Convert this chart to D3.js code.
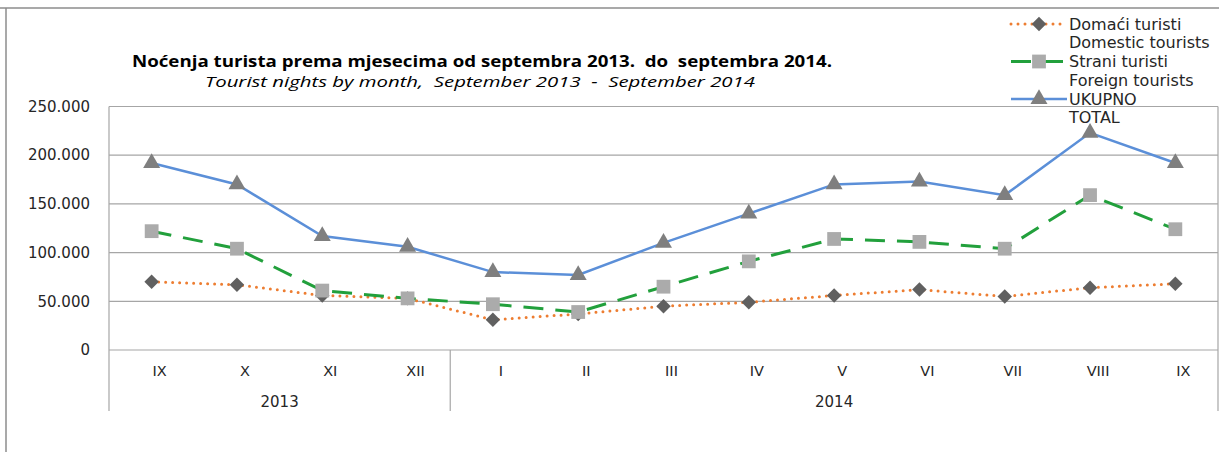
<!DOCTYPE html>
<html>
  <head>
    <meta charset="utf-8">
    <title>Noćenja turista</title>
    <script src="https://d3js.org/d3.v7.min.js"></script>
    <style>
      body { margin: 0; background: #fff; }
      text { font-family: "DejaVu Sans", Verdana, sans-serif; fill: #262626; }
      .title { font-family: "Open Sans", sans-serif; font-weight: bold; font-size: 16px; fill: #000; white-space: pre; }
      .subtitle { font-family: "Open Sans", sans-serif; font-style: italic; font-size: 15px; fill: #000; white-space: pre; }
    </style>
  </head>
  <body>
    <div id="chart"></div>
    <script>
      // months Sept 2013 - Sept 2014
      var months = ["IX", "X", "XI", "XII", "I", "II", "III", "IV", "V", "VI", "VII", "VIII", "IX"];
      var years = [{ label: "2013", from: 0, to: 4 }, { label: "2014", from: 4, to: 13 }];
      var domestic = [70000, 67000, 56000, 53000, 31000, 37000, 45000, 49000, 56000, 62000, 55000, 64000, 68000];
      var foreign = [122000, 104000, 61000, 53000, 47000, 39000, 65000, 91000, 114000, 111000, 104000, 159000, 124000];
      var total = [192000, 170000, 117000, 106000, 80000, 77000, 110000, 140000, 170000, 173000, 159000, 223000, 192000];
      var yTicks = [0, 50000, 100000, 150000, 200000, 250000];

      var width = 1219, height = 452;
      var plotLeft = 109, plotRight = 1218, plotTop = 106.5, plotBottom = 350, axisBottom = 411;

      var svg = d3.select("#chart").append("svg")
        .attr("width", width).attr("height", height);

      // outer frame (only top and left visible)
      svg.append("line").attr("x1", 0).attr("x2", width).attr("y1", 8).attr("y2", 8)
        .attr("stroke", "#8c8c8c").attr("stroke-width", 1.5);
      svg.append("line").attr("x1", 6).attr("x2", 6).attr("y1", 8).attr("y2", height)
        .attr("stroke", "#8c8c8c").attr("stroke-width", 1.5);

      var x = d3.scaleBand().domain(d3.range(months.length)).range([plotLeft, plotRight]);
      var y = d3.scaleLinear().domain([0, 250000]).range([plotBottom, plotTop]);
      var cx = function(i) { return x(i) + x.bandwidth() / 2; };

      // gridlines
      svg.append("g").selectAll("line").data(yTicks).enter().append("line")
        .attr("x1", plotLeft).attr("x2", plotRight)
        .attr("y1", d => y(d)).attr("y2", d => y(d))
        .attr("stroke", "#a6a6a6").attr("stroke-width", 1.2);

      // y labels
      var fmt = function(d) { return d === 0 ? "0" : d3.format(",")(d).replace(/,/g, "."); };
      svg.append("g").selectAll("text").data(yTicks).enter().append("text")
        .attr("x", 90).attr("y", d => y(d)).attr("dy", "0.35em")
        .attr("text-anchor", "end").style("font-size", "15px")
        .text(fmt);

      // x axis frame
      var axisG = svg.append("g").attr("stroke", "#a6a6a6").attr("stroke-width", 1.2);
      axisG.append("line").attr("x1", plotLeft).attr("x2", plotLeft).attr("y1", plotTop).attr("y2", axisBottom);
      axisG.append("line").attr("x1", plotRight).attr("x2", plotRight).attr("y1", plotTop).attr("y2", axisBottom);
      axisG.selectAll(".div").data(years.slice(1)).enter().append("line")
        .attr("x1", d => x(d.from)).attr("x2", d => x(d.from))
        .attr("y1", plotBottom).attr("y2", axisBottom);

      svg.append("g").selectAll("text").data(months).enter().append("text")
        .attr("x", (d, i) => cx(i) + 8).attr("y", 376)
        .attr("text-anchor", "middle").style("font-size", "14.5px")
        .text(d => d);

      svg.append("g").selectAll("text").data(years).enter().append("text")
        .attr("x", d => (x(d.from) + (d.to < months.length ? x(d.to) : plotRight)) / 2)
        .attr("y", 407).attr("text-anchor", "middle").style("font-size", "15px")
        .text(d => d.label);

      // series
      var series = [
        { name: "Domaći turisti", sub: "Domestic tourists", values: domestic, color: "#ed7d31",
          dash: "0 7", width: 3, marker: d3.symbolSquare, rot: 45, mfill: "#606060", msize: 105 },
        { name: "Strani turisti", sub: "Foreign tourists", values: foreign, color: "#22a03c",
          dash: "20 12", width: 3, marker: d3.symbolSquare, rot: 0, mfill: "#ababab", msize: 190 },
        { name: "UKUPNO", sub: "TOTAL", values: total, color: "#5b8fd8",
          dash: null, width: 2.5, marker: d3.symbolTriangle, rot: 0, mfill: "#7f7f7f", msize: 125 }
      ];

      var line = d3.line().x((d, i) => cx(i)).y(d => y(d));
      var isDotted = s => s.dash && s.dash[0] === "0";

      series.forEach(function(s) {
        svg.append("path").datum(s.values)
          .attr("d", line).attr("fill", "none")
          .attr("stroke", s.color).attr("stroke-width", s.width)
          .attr("stroke-linecap", isDotted(s) ? "round" : "butt")
          .attr("stroke-dasharray", s.dash);
      });
      series.forEach(function(s) {
        svg.append("g").selectAll("path").data(s.values).enter().append("path")
          .attr("d", d3.symbol().type(s.marker).size(s.msize))
          .attr("transform", (d, i) => "translate(" + cx(i) + "," + y(d) + ") rotate(" + s.rot + ")")
          .attr("fill", s.mfill);
      });

      // titles
      svg.append("text").attr("class", "title").attr("x", 482).attr("y", 67)
        .attr("text-anchor", "middle")
        .attr("textLength", 700).attr("lengthAdjust", "spacingAndGlyphs")
        .text("Noćenja turista prema mjesecima od septembra 2013.  do  septembra 2014.");
      svg.append("text").attr("class", "subtitle").attr("x", 480).attr("y", 87)
        .attr("text-anchor", "middle")
        .attr("textLength", 550).attr("lengthAdjust", "spacingAndGlyphs")
        .text("Tourist nights by month,  September 2013  -  September 2014");

      // legend
      var lg = svg.append("g");
      series.forEach(function(s, i) {
        var ly = 24 + i * 37.5;
        lg.append("line").attr("x1", 1011).attr("x2", 1067).attr("y1", ly).attr("y2", ly)
          .attr("stroke", s.color).attr("stroke-width", s.width)
          .attr("stroke-linecap", isDotted(s) ? "round" : "butt")
          .attr("stroke-dasharray", s.dash);
        lg.append("path").attr("d", d3.symbol().type(s.marker).size(s.msize))
          .attr("transform", "translate(1039," + ly + ") rotate(" + s.rot + ")").attr("fill", s.mfill);
        lg.append("text").attr("x", 1069).attr("y", ly).attr("dy", "0.35em")
          .style("font-size", "16px").text(s.name);
        lg.append("text").attr("x", 1069).attr("y", ly + 18.5).attr("dy", "0.35em")
          .style("font-size", "16px").text(s.sub);
      });
    </script>
  </body>
</html>
